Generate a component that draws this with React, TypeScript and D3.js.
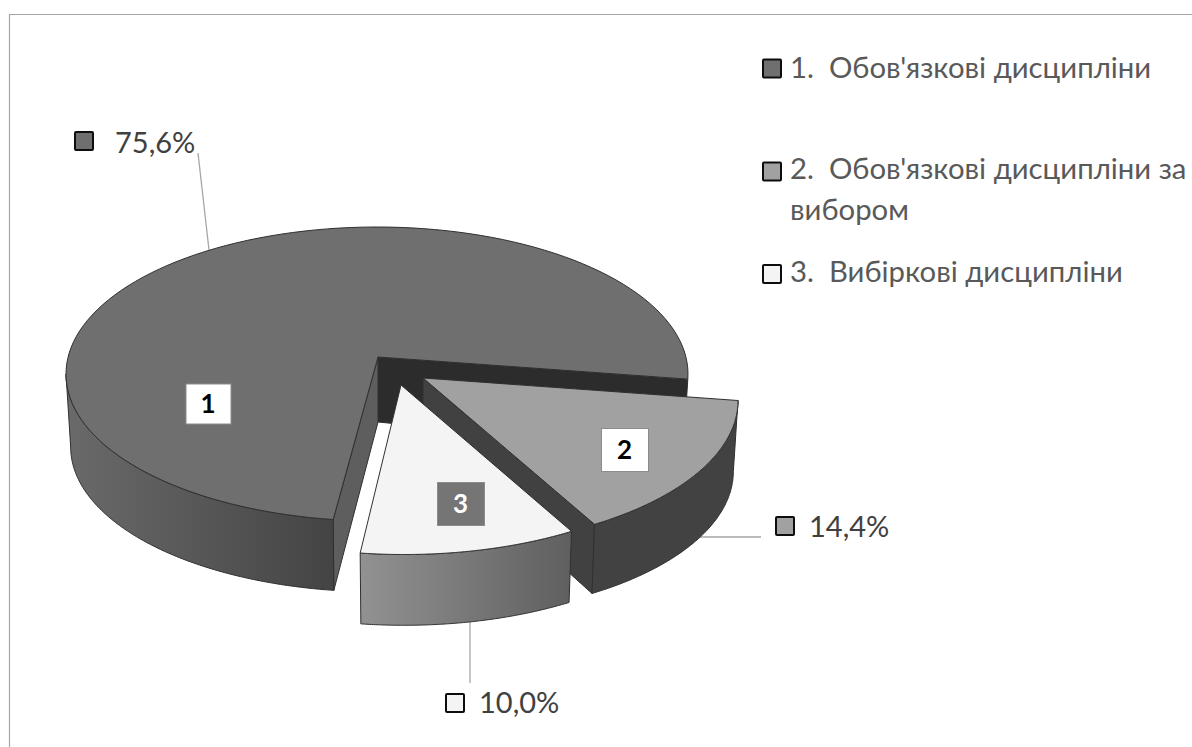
import React from "react";
import * as d3 from "d3";

const categories = ["1", "2", "3"];
const sliceValues = [75.6, 14.4, 10.0];
const valueLabels = ["75,6%", "14,4%", "10,0%"];
const legendLines = [
  ["1.  Обов'язкові дисципліни"],
  ["2.  Обов'язкові дисципліни за", "вибором"],
  ["3.  Вибіркові дисципліни"],
];
const topColors = ["#6f6f6f", "#a1a1a1", "#f4f4f4"];
const W = 1192, H = 747;
const FONT = "Lato, 'Open Sans', sans-serif";
const RX = 311, RY = 147, BOTTOM = 0.985;

// Perspective warp: true pie angle (deg from slice 1 start) -> projected angle
const warp = d3.scaleLinear().domain([0, 272.16, 324, 360]).range([188.1, 452, 507.4, 548.1]);
const startTrim = [0, -2, 0];

const geoms = [
  { cx: 377, cy: 374, ax: 378, ay: 357, depth: 73 },
  { cx: 427, cy: 400.5, ax: 423, ay: 378, depth: 71 },
  { cx: 404, cy: 407.5, ax: 401, ay: 385, depth: 73 },
];
const labelBoxes = [
  { x: 185.5, y: 383.5, w: 45, h: 40, fill: "#ffffff", text: "#000000" },
  { x: 601, y: 428, w: 47, h: 43, fill: "#ffffff", text: "#000000" },
  { x: 437, y: 482, w: 47, h: 43, fill: "#757575", text: "#ffffff" },
];
const valueKeys = [
  { sx: 75, sy: 132, s: 18, tx: 115, ty: 153 },
  { sx: 776, sy: 517, s: 18, tx: 809, ty: 537 },
  { sx: 446, sy: 694, s: 18, tx: 479, ty: 713 },
];
const leaders: [number, number, number, number][] = [
  [198, 153, 209, 250],
  [693, 537, 761, 537],
  [470, 621, 470, 683],
];
const legendRows = [
  { sy: 59.5, base: [78] },
  { sy: 162.5, base: [179, 220] },
  { sy: 265, base: [282] },
];

const rad = (d: number) => (d * Math.PI) / 180;
type G = typeof geoms[number];
const topPt = (g: G, deg: number): [number, number] => [
  g.cx + RX * Math.sin(rad(deg)),
  g.cy - RY * Math.cos(rad(deg)),
];
const botPt = (g: G, deg: number): [number, number] => [
  g.cx + RX * BOTTOM * Math.sin(rad(deg)),
  g.cy + g.depth - RY * BOTTOM * Math.cos(rad(deg)),
];
const line = d3.line<[number, number]>();
const sample = (f: (d: number) => [number, number], a: number, b: number) =>
  d3.range(0, 121).map((i) => f(a + ((b - a) * i) / 120));

export default function App() {
  const arcs = d3.pie<number>().sort(null).startAngle(0).endAngle(2 * Math.PI)(sliceValues);
  const spans = arcs.map((a, i) => [
    warp((a.startAngle * 180) / Math.PI) + startTrim[i],
    warp((a.endAngle * 180) / Math.PI),
  ]);
  const [s1, s2, s3] = spans;
  const [g1, g2, g3] = geoms;

  const topPath = (g: G, a: number, b: number) =>
    line([[g.ax, g.ay], ...sample((d) => topPt(g, d), a, b)]) + "Z";
  const rimPath = (g: G, a: number, b: number) =>
    line([...sample((d) => topPt(g, d), a, b), ...sample((d) => botPt(g, d), b, a)]) + "Z";
  const facePath = (g: G, deg: number) =>
    line([[g.ax, g.ay], topPt(g, deg), botPt(g, deg), [g.ax, g.ay + g.depth - 8]]) + "Z";

  const edge = { stroke: "#303030", strokeWidth: 1, strokeLinejoin: "round" as const };
  return (
    <svg width={W} height={H} style={{ position: "absolute", left: 0, top: 0, background: "#fff" }} fontFamily={FONT}>
      <defs>
        <linearGradient id="rim1" gradientUnits="userSpaceOnUse" x1={66} x2={333} y1={0} y2={0}>
          <stop offset="0" stopColor="#6a6a6a" />
          <stop offset="1" stopColor="#444444" />
        </linearGradient>
        <linearGradient id="rim3" gradientUnits="userSpaceOnUse" x1={360} x2={571} y1={0} y2={0}>
          <stop offset="0" stopColor="#929292" />
          <stop offset="1" stopColor="#5f5f5f" />
        </linearGradient>
      </defs>
      <path d={`M${W},14.5H9.5V${H}`} fill="none" stroke="#a6a6a6" strokeWidth={1.2} />

      {leaders.map(([x1, y1, x2, y2], i) => (
        <line key={i} x1={x1} y1={y1} x2={x2} y2={y2} stroke="#a6a6a6" strokeWidth={1.3} />
      ))}

      {/* slice 1 */}
      <path d={facePath(g1, s1[1] % 360)} fill="#2c2c2c" {...edge} />
      <path d={facePath(g1, s1[0])} fill="#5e5e5e" {...edge} />
      <path d={rimPath(g1, s1[0], 270)} fill="url(#rim1)" {...edge} />
      <path d={topPath(g1, s1[0], s1[1])} fill={topColors[0]} {...edge} />

      {/* slice 2 */}
      <path d={facePath(g2, s2[1] % 360)} fill="#414141" {...edge} />
      <path d={rimPath(g2, s2[0], s2[1])} fill="#424242" {...edge} />
      <path d={topPath(g2, s2[0], s2[1])} fill={topColors[1]} {...edge} />

      {/* slice 3 */}
      <path d={rimPath(g3, s3[0], s3[1])} fill="url(#rim3)" {...edge} />
      <path d={topPath(g3, s3[0], s3[1])} fill={topColors[2]} {...edge} />

      {labelBoxes.map((b, i) => (
        <g key={i}>
          <rect x={b.x + 0.5} y={b.y + 0.5} width={b.w} height={b.h} fill={b.fill} stroke="#8c8c8c" strokeWidth={1} />
          <text x={b.x + b.w / 2} y={b.y + b.h / 2 + 9} textAnchor="middle" fontSize={26} fontWeight={700} fill={b.text}>
            {categories[i]}
          </text>
        </g>
      ))}

      {valueKeys.map((k, i) => (
        <g key={i}>
          <rect x={k.sx} y={k.sy} width={k.s} height={k.s} rx={1} fill={topColors[i]} stroke="#0d0d0d" strokeWidth={2} />
          <text x={k.tx} y={k.ty} fontSize={29} fill="#404040">{valueLabels[i]}</text>
        </g>
      ))}

      {legendRows.map((r, i) => (
        <g key={i}>
          <rect x={763} y={r.sy} width={18} height={18} rx={1} fill={topColors[i]} stroke="#0d0d0d" strokeWidth={2} />
          {legendLines[i].map((t, j) => (
            <text key={j} x={790} y={r.base[j]} fontSize={29.3} fill="#595959" style={{ whiteSpace: "pre" }}>{t}</text>
          ))}
        </g>
      ))}
    </svg>
  );
}
